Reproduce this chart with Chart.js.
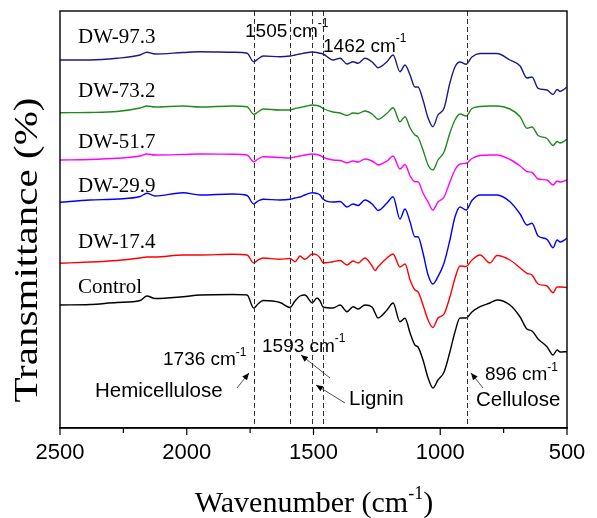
<!DOCTYPE html>
<html>
<head>
<meta charset="utf-8">
<script src="https://cdn.jsdelivr.net/npm/chart.js@4.4.1/dist/chart.umd.min.js"></script>
<style>
html,body{margin:0;padding:0;background:#fff;}
#wrap{width:597px;height:518px;position:relative;}
</style>
</head>
<body>
<div id="wrap"><canvas id="c" width="597" height="518"></canvas></div>
<script>
// Wavenumber grid (cm-1)
const wavenumbers = [2500, 2382, 2275, 2184, 2157, 2125, 2015, 1948, 1818, 1762, 1736, 1719, 1699, 1632, 1593, 1573, 1553, 1534, 1505, 1486, 1474, 1462, 1423, 1395, 1368, 1344, 1324, 1297, 1269, 1257, 1246, 1210, 1186, 1159, 1139, 1119, 1100, 1088, 1068, 1048, 1029, 1009, 985, 962, 942, 922, 898, 875, 843, 804, 776, 725, 685, 658, 638, 614, 579, 555, 539, 527, 500];

// Transmittance (arbitrary offset units)
const dw973 = [368, 368, 369.7, 373, 375.7, 374, 375.5, 376.3, 375.7, 374.7, 366.3, 369, 372, 371.3, 372, 373, 374, 375, 376, 375.5, 374.7, 374, 368, 369.7, 364, 366.3, 364.7, 369.7, 366, 363, 360.3, 366.3, 373, 356.3, 363, 353, 341, 341, 328, 310, 301.3, 313, 319.7, 345, 361, 366, 363.7, 371, 374.5, 374.5, 374.5, 368, 362, 350, 351, 339.7, 338, 333.5, 338.5, 336.5, 341];
const dw732 = [315.3, 315.5, 316.5, 320, 322, 321, 322, 321, 322, 321.3, 313.7, 316, 319, 318, 318, 319.5, 320.5, 321.5, 323, 322.5, 321.5, 319.5, 316, 315, 312.5, 315, 314.5, 317, 314, 311, 308.7, 314.7, 320.3, 306.3, 311.3, 300, 293, 291, 278, 263, 258, 268, 276, 295, 308, 314, 312, 319.5, 321.5, 322, 322, 319, 311.3, 299.7, 301, 292.5, 289.5, 282.5, 286.5, 285, 288.7];
const dw517 = [268, 268.5, 269.7, 272, 274, 273, 273.5, 274, 273.7, 273, 266.3, 269, 271.3, 270.5, 270, 271, 272, 273, 274, 273.5, 272.5, 270.7, 268, 267.5, 265.3, 267, 266, 269, 267, 265, 263, 267, 272, 259, 263.5, 252, 246.3, 246.3, 235, 226, 218, 226, 231, 246, 258, 264, 264.7, 269.5, 272.5, 273, 273, 268.5, 262, 256.5, 255.5, 249, 248, 243, 247, 246, 248];
const dw299 = [225.7, 228, 229, 231.5, 234.7, 232, 235.3, 233, 234, 232.5, 224, 227, 228.7, 228, 228.7, 230, 231, 233, 235.3, 234.5, 233, 228.7, 226, 226.5, 221, 224, 222.5, 228, 224, 220.5, 217.5, 225, 231.3, 209, 219, 206, 191.3, 191.3, 175, 153, 144, 151.3, 165, 188, 211, 221, 218, 227.5, 233, 233, 233, 226.3, 214, 203, 204.7, 192, 188.7, 180.3, 188, 186, 189.7];
const dw174 = [164.7, 166, 167.5, 170, 171, 171, 173, 173, 173.7, 173, 165, 168, 170, 168.7, 169.5, 166.3, 172, 168.7, 174, 173, 170, 165, 166.3, 167.5, 163, 167, 165, 170, 162, 157.5, 161, 170, 174, 161, 164, 148, 138, 136.3, 123, 108, 100.5, 110, 114, 131, 149.7, 162, 161.5, 168, 173, 165, 172.5, 168, 160, 154.7, 153, 144, 142, 135.3, 141, 141, 140.5];
const control = [123, 123.5, 125.5, 127.5, 132, 129.5, 131.3, 133, 133.5, 133, 120, 124, 127.5, 125.5, 120.5, 127, 132, 133, 125.3, 130, 127, 121, 120, 123, 116.3, 121.3, 119, 123, 121, 115, 110, 118, 125, 106.3, 109.7, 95, 83, 81, 68, 50, 40, 48, 56, 76, 96, 110, 110, 116, 121.3, 125, 128, 123, 111, 99, 97, 89, 81.3, 73, 78, 76, 76.3];

const seriesNames = ['DW-97.3', 'DW-73.2', 'DW-51.7', 'DW-29.9', 'DW-17.4', 'Control'];
const seriesData = [dw973, dw732, dw517, dw299, dw174, control];
const seriesColors = ['#1a1a8c', '#1e8a1e', '#ff00ff', '#0000ff', '#ff0000', '#000000'];

const xTicks = [2500, 2000, 1500, 1000, 500];
const markerLines = [1736, 1593, 1505, 1462, 896];

const SERIF = '"Liberation Serif", "Times New Roman", serif';
const SANS = '"Liberation Sans", Arial, sans-serif';

function textWithSup(ctx, x, y, base, sup, tail, font, supFont, supDy) {
  ctx.font = font;
  ctx.fillText(base, x, y);
  let w = ctx.measureText(base).width;
  ctx.font = supFont;
  ctx.fillText(sup, x + w, y - supDy);
  w += ctx.measureText(sup).width;
  if (tail) {
    ctx.font = font;
    ctx.fillText(tail, x + w, y);
    w += ctx.measureText(tail).width;
  }
  return w;
}
function measureSup(ctx, base, sup, tail, font, supFont) {
  ctx.font = font;
  let w = ctx.measureText(base).width + (tail ? ctx.measureText(tail).width : 0);
  ctx.font = supFont;
  return w + ctx.measureText(sup).width;
}
function arrow(ctx, x1, y1, x2, y2) {
  ctx.save();
  ctx.strokeStyle = '#555';
  ctx.lineWidth = 1;
  ctx.beginPath(); ctx.moveTo(x1, y1); ctx.lineTo(x2, y2); ctx.stroke();
  const a = Math.atan2(y2 - y1, x2 - x1);
  const L = 7, W = 3;
  ctx.fillStyle = '#000';
  ctx.beginPath();
  ctx.moveTo(x2, y2);
  ctx.lineTo(x2 - L * Math.cos(a) + W * Math.sin(a), y2 - L * Math.sin(a) - W * Math.cos(a));
  ctx.lineTo(x2 - L * Math.cos(a) - W * Math.sin(a), y2 - L * Math.sin(a) + W * Math.cos(a));
  ctx.closePath(); ctx.fill();
  ctx.restore();
}

const decor = {
  id: 'decor',
  afterDraw(chart) {
    const ctx = chart.ctx;
    const ca = chart.chartArea;
    const xs = chart.scales.x;
    ctx.save();
    ctx.fillStyle = '#000';
    ctx.textBaseline = 'alphabetic';
    ctx.textAlign = 'left';

    // series labels
    const lblPos = [[78, 43], [78, 96.7], [78, 148.3], [78, 191.7], [78, 248.3], [78, 293.3]];
    ctx.font = '21px ' + SERIF;
    seriesNames.forEach((n, i) => ctx.fillText(n, lblPos[i][0], lblPos[i][1]));

    // band labels
    const F = '19px ' + SANS, SF = '12px ' + SANS;
    textWithSup(ctx, 245, 36.7, '1505 cm', '-1', '', F, SF, 9.5);
    textWithSup(ctx, 323, 51.7, '1462 cm', '-1', '', F, SF, 9.5);
    textWithSup(ctx, 163, 365, '1736 cm', '-1', '', F, SF, 9.5);
    textWithSup(ctx, 262, 351.7, '1593 cm', '-1', '', F, SF, 9.5);
    textWithSup(ctx, 485, 380, '896 cm', '-1', '', F, SF, 9.5);
    ctx.font = '20.5px ' + SANS;
    ctx.fillText('Hemicellulose', 95, 396.7);
    ctx.fillText('Lignin', 349, 405);
    ctx.fillText('Cellulose', 476, 406);

    arrow(ctx, 237, 388, 249, 373);
    arrow(ctx, 330, 378, 301, 355);
    arrow(ctx, 345, 403, 316, 385);
    arrow(ctx, 483, 388, 471, 373);

    // dashed marker lines
    ctx.strokeStyle = '#333';
    ctx.lineWidth = 1;
    ctx.setLineDash([5, 3]);
    markerLines.forEach(v => {
      const px = Math.round(xs.getPixelForValue(v)) + 0.5;
      ctx.beginPath(); ctx.moveTo(px, ca.top); ctx.lineTo(px, ca.bottom); ctx.stroke();
    });
    ctx.setLineDash([]);

    // frame
    ctx.strokeStyle = '#000';
    ctx.lineWidth = 1.4;
    ctx.strokeRect(ca.left, ca.top, ca.right - ca.left, ca.bottom - ca.top);

    // ticks: major 7px, minor 5px
    ctx.lineWidth = 1.2;
    for (let v = 500; v <= 2500; v += 250) {
      const px = xs.getPixelForValue(v);
      const len = (v % 500 === 0) ? 7 : 5;
      ctx.beginPath(); ctx.moveTo(px, ca.bottom); ctx.lineTo(px, ca.bottom + len); ctx.stroke();
    }

    // axis titles
    ctx.fillStyle = '#000';
    ctx.save();
    ctx.translate(37, 250);
    ctx.rotate(-Math.PI / 2);
    ctx.font = '33px ' + SERIF;
    const yt = 'Transmittance (%)';
    const yw = ctx.measureText(yt).width;
    ctx.scale(305 / yw, 1);
    ctx.textAlign = 'center';
    ctx.fillText(yt, 0, 0);
    ctx.restore();

    const XF = '30px ' + SERIF, XSF = '18px ' + SERIF;
    const xw = measureSup(ctx, 'Wavenumber (cm', '-1', ')', XF, XSF);
    ctx.textAlign = 'left';
    textWithSup(ctx, 314 - xw / 2, 512, 'Wavenumber (cm', '-1', ')', XF, XSF, 13);
    ctx.restore();
  }
};

const datasets = seriesData.map((arr, i) => ({
  label: seriesNames[i],
  data: arr.map((y, j) => ({ x: wavenumbers[j], y: y })),
  borderColor: seriesColors[i],
  borderWidth: 1.4,
  pointRadius: 0,
  fill: false,
  cubicInterpolationMode: 'monotone'
}));

new Chart(document.getElementById('c'), {
  type: 'line',
  data: { datasets },
  options: {
    responsive: false,
    animation: false,
    devicePixelRatio: 1,
    layout: { padding: { left: 60, top: 11, right: 30, bottom: 0 } },
    plugins: { legend: { display: false }, tooltip: { enabled: false } },
    scales: {
      x: {
        type: 'linear',
        min: 500, max: 2500,
        reverse: true,
        afterBuildTicks(scale) { scale.ticks = xTicks.map(v => ({ value: v })); },
        afterFit(scale) { scale.height = 90; },
        ticks: { color: '#000', font: { family: SANS, size: 22 }, padding: 5, maxRotation: 0, autoSkip: false,
                 callback: v => String(v) },
        grid: { display: true, drawOnChartArea: false, drawTicks: true, tickLength: 7, tickColor: 'rgba(0,0,0,0)' },
        border: { display: true, color: '#000', width: 1.4 }
      },
      y: {
        display: false,
        min: 0, max: 417
      }
    }
  },
  plugins: [decor]
});
</script>
</body>
</html>
